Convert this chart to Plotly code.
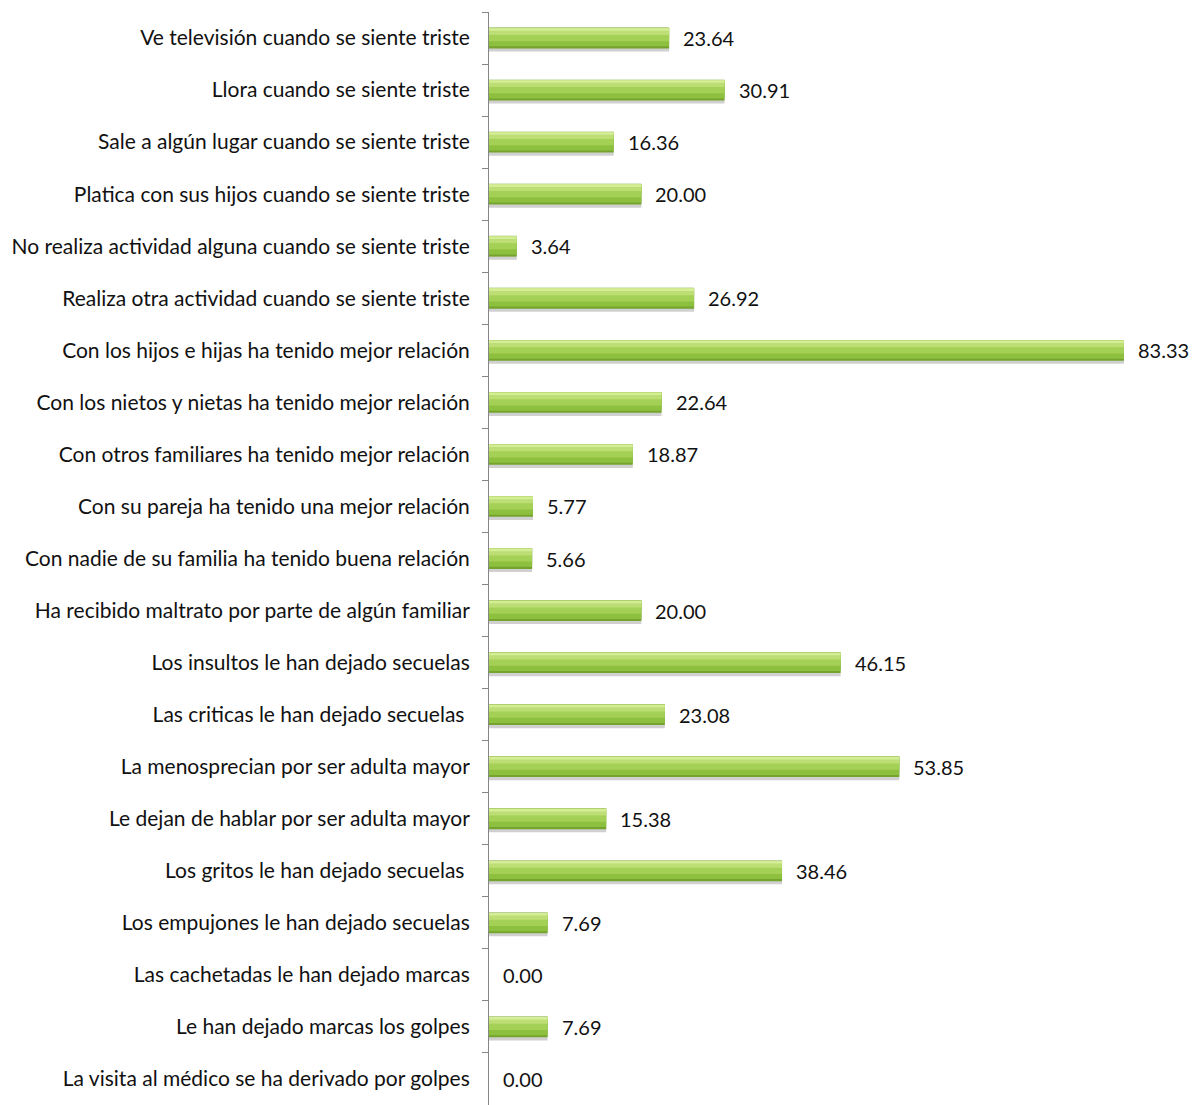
import plotly.graph_objects as go

categories = [
    "Ve televisión cuando se siente triste",
    "Llora cuando se siente triste",
    "Sale a algún lugar cuando se siente triste",
    "Platica con sus hijos cuando se siente triste",
    "No realiza actividad alguna cuando se siente triste",
    "Realiza otra actividad cuando se siente triste",
    "Con los hijos e hijas ha tenido mejor relación",
    "Con los nietos y nietas ha tenido mejor relación",
    "Con otros familiares ha tenido mejor relación",
    "Con su pareja ha tenido una mejor relación",
    "Con nadie de su familia ha tenido buena relación",
    "Ha recibido maltrato por parte de algún familiar",
    "Los insultos le han dejado secuelas",
    "Las criticas le han dejado secuelas ",
    "La menosprecian por ser adulta mayor",
    "Le dejan de hablar por ser adulta mayor",
    "Los gritos le han dejado secuelas ",
    "Los empujones le han dejado secuelas",
    "Las cachetadas le han dejado marcas",
    "Le han dejado marcas los golpes",
    "La visita al médico se ha derivado por golpes",
]
values = [23.64, 30.91, 16.36, 20.00, 3.64, 26.92, 83.33, 22.64, 18.87, 5.77,
          5.66, 20.00, 46.15, 23.08, 53.85, 15.38, 38.46, 7.69, 0.00, 7.69, 0.00]

FONT = "Lato, Calibri, 'Open Sans', sans-serif"

# layered bars give a glossy, cylinder-like look: (color, width, offset)
layers = [
    ("#D0D0D0", 0.45, -0.19),   # soft shadow below
    ("#74A42D", 0.40, -0.20),   # dark edge
    ("#8EC040", 0.35, -0.19),   # lower body
    ("#A4D055", 0.25, -0.19),   # body
    ("#BCDE74", 0.13, -0.19),   # highlight
    ("#D4ED96", 0.05, -0.19),   # top rim
]

fig = go.Figure()
for color, w, off in layers:
    fig.add_trace(go.Bar(
        y=categories, x=values, orientation="h",
        width=w, offset=off,
        marker=dict(color=color, line=dict(width=0)),
        hoverinfo="skip",
    ))

for cat, v in zip(categories, values):
    fig.add_annotation(
        x=v, y=cat, xref="x", yref="y",
        text=f"{v:.2f}", showarrow=False,
        xanchor="left", yanchor="middle", xshift=12, yshift=0,
        font=dict(family=FONT, size=20, color="#111111"),
    )

fig.update_layout(
    width=1193, height=1105,
    margin=dict(l=489, r=0, t=12, b=0),
    paper_bgcolor="white", plot_bgcolor="white",
    barmode="overlay", showlegend=False,
    font=dict(family=FONT, size=21, color="#111111"),
    xaxis=dict(range=[0, 92.4], visible=False, fixedrange=True),
    yaxis=dict(
        autorange="reversed", type="category",
        showline=True, linecolor="#868686", linewidth=1,
        ticks="outside", tickson="boundaries", ticklen=6, tickcolor="#868686",
        ticklabelstandoff=14,
        tickfont=dict(family=FONT, size=21, color="#111111"),
        showgrid=False, zeroline=False,
    ),
)

fig.write_html(
    "out.html",
    config={"displayModeBar": False},
    post_script="document.body.style.margin='0';document.body.style.overflow='hidden';",
)
